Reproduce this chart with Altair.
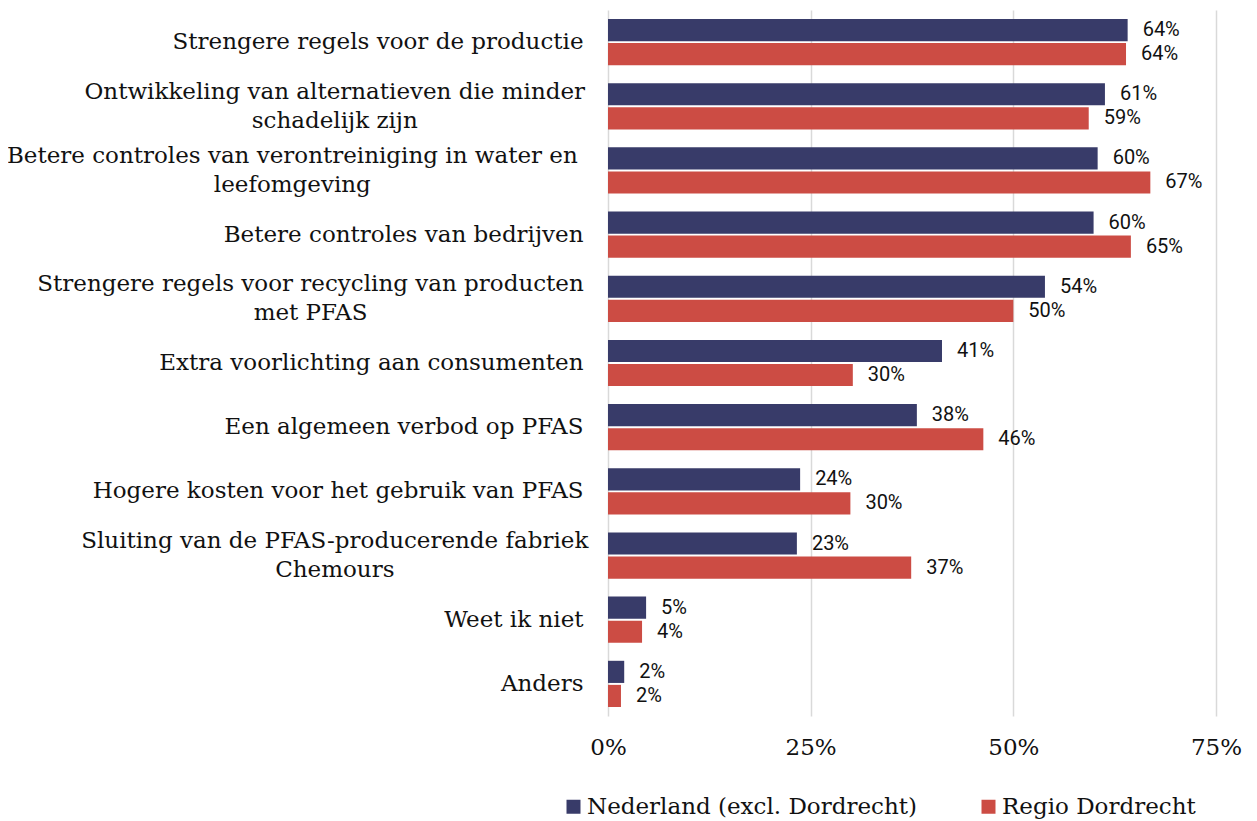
import altair as alt
import pandas as pd

categories = [
    "Strengere regels voor de productie",
    "Ontwikkeling van alternatieven die minder|schadelijk zijn",
    "Betere controles van verontreiniging in water en|leefomgeving",
    "Betere controles van bedrijven",
    "Strengere regels voor recycling van producten|met PFAS",
    "Extra voorlichting aan consumenten",
    "Een algemeen verbod op PFAS",
    "Hogere kosten voor het gebruik van PFAS",
    "Sluiting van de PFAS-producerende fabriek|Chemours",
    "Weet ik niet",
    "Anders",
]
series = ["Nederland (excl. Dordrecht)", "Regio Dordrecht"]
nederland = [64.1, 61.3, 60.4, 59.9, 53.9, 41.2, 38.1, 23.7, 23.3, 4.7, 2.0]
dordrecht = [63.9, 59.3, 66.9, 64.5, 50.0, 30.2, 46.3, 29.9, 37.4, 4.2, 1.6]
colors = ["#383B69", "#CC4C44"]
x_ticks = [0, 25, 50, 75]

rows = []
for i, c in enumerate(categories):
    rows.append({"cat": c, "series": series[0], "value": nederland[i]})
    rows.append({"cat": c, "series": series[1], "value": dordrecht[i]})
df = pd.DataFrame(rows)

SERIF = "DejaVu Serif"
SANS = "Roboto"
FS = 23
CHAR_W = 0.5275 * FS  # approx. average glyph width, used to centre wrapped lines
MULTI = "indexof(datum.value, '|') >= 0"

y_enc = alt.Y(
    "cat:N",
    sort=categories,
    scale=alt.Scale(paddingInner=0.28, paddingOuter=0.14),
    axis=alt.Axis(
        title=None,
        domain=False,
        ticks=False,
        labelFont=SERIF,
        labelFontSize=FS,
        labelColor="#111111",
        labelLimit=1000,
        labelLineHeight=29,
        labelExpr="split(datum.label, '|')",
        labelAlign=alt.ExprRef(expr=f"{MULTI} ? 'center' : 'right'"),
        labelPadding=alt.ExprRef(
            expr=f"{MULTI} ? 25 + length(split(datum.value, '|')[0]) * {CHAR_W} / 2 : 25"
        ),
        labelOffset=alt.ExprRef(expr=f"{MULTI} ? -14.5 : 0"),
    ),
)
yoff = alt.YOffset("series:N", sort=series, scale=alt.Scale(paddingInner=0.08))
x_enc = alt.X(
    "value:Q",
    scale=alt.Scale(domain=[0, 75], nice=False),
    axis=alt.Axis(
        title=None,
        values=x_ticks,
        domain=False,
        ticks=False,
        grid=True,
        gridColor="#d9d9d9",
        gridWidth=1.5,
        labelFont=SERIF,
        labelFontSize=FS,
        labelColor="#111111",
        labelPadding=20,
        labelFlush=False,
        labelExpr="datum.value + '%'",
    ),
)

bars = alt.Chart(df).mark_bar().encode(
    y=y_enc,
    yOffset=yoff,
    x=x_enc,
    color=alt.Color(
        "series:N",
        sort=series,
        scale=alt.Scale(domain=series, range=colors),
        legend=alt.Legend(
            title=None,
            orient="none",
            legendX=-46,
            legendY=785,
            direction="horizontal",
            columns=2,
            columnPadding=60,
            symbolType="square",
            symbolSize=196,
            symbolStrokeWidth=0,
            symbolOffset=0,
            labelFont=SERIF,
            labelFontSize=FS,
            labelColor="#111111",
            labelOffset=2,
            labelLimit=1000,
        ),
    ),
)

texts = (
    alt.Chart(df)
    .transform_calculate(lbl="format(round(datum.value), 'd') + '%'")
    .mark_text(align="left", baseline="middle", dx=15, font=SANS, fontSize=20, color="#111111")
    .encode(
        y=alt.Y("cat:N", sort=categories),
        yOffset=alt.YOffset("series:N", sort=series),
        x=alt.X("value:Q"),
        text="lbl:N",
    )
)

chart = (
    alt.layer(bars, texts)
    .properties(
        width=608,
        height=706,
        autosize=alt.AutoSizeParams(type="none"),
        padding={"left": 600, "top": 2, "right": 33, "bottom": 105},
    )
    .configure_view(stroke=None)
)

chart.save("out.html", embed_options={"renderer": "svg", "actions": False})
